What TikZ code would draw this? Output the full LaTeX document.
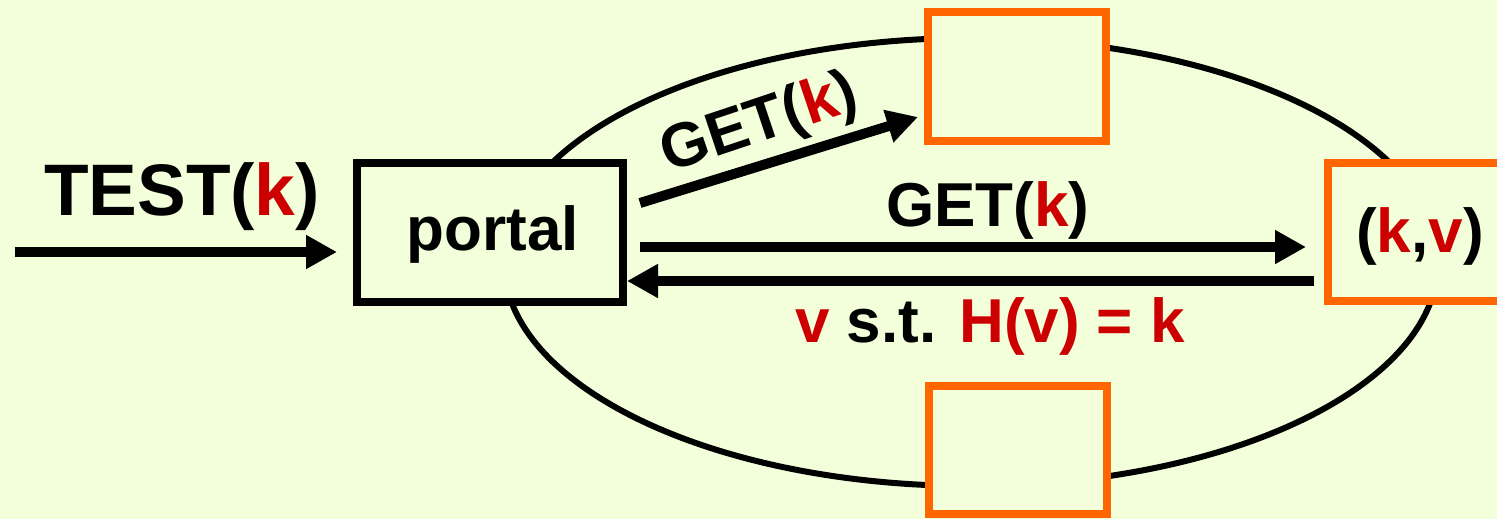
\documentclass[tikz,border=0pt]{standalone}
\usepackage{fontspec}
\setmainfont{Liberation Sans}
\usetikzlibrary{arrows.meta}
\definecolor{bg}{HTML}{F2FFDA}
\definecolor{kred}{HTML}{CC0000}
\definecolor{korange}{HTML}{FF6600}
\tikzset{
  lbl/.style={font=\fontsize{62}{70}\selectfont\bfseries, inner sep=0pt, anchor=base},
  bigl/.style={font=\fontsize{73}{80}\selectfont\bfseries, inner sep=0pt, anchor=base},
  bbox/.style={draw=black, line width=8pt, fill=bg, rectangle, inner sep=0pt},
  obox/.style={draw=korange, line width=8pt, fill=bg, rectangle, inner sep=0pt},
  arr/.style={line width=10pt, -{Triangle[length=31pt,width=32pt]}},
  ring/.style={draw=black, line width=6pt},
}
\newcommand{\rk}{\textcolor{kred}{k}}
\begin{document}
\begin{tikzpicture}[x=1pt,y=-1pt]
\fill[bg] (0,0) rectangle (1497,519);
\useasboundingbox (0,0) rectangle (1497,519);
% ring
\draw[ring] (971,262) ellipse [x radius=467, y radius=224];
% boxes
\node[bbox, minimum width=265.5pt, minimum height=139pt] (portal) at (490,232.5) {};
\node[lbl] (portaltxt) at (493,250) {portal};
\node[obox, minimum width=178pt, minimum height=129pt] (top) at (1017,76.5) {};
\node[obox, minimum width=178pt, minimum height=128.5pt] (bot) at (1018,450) {};
\begin{scope}
\clip (0,0) rectangle (1497,519);
\node[obox, minimum width=184pt, minimum height=138.5pt] (kv) at (1420,232) {};
\end{scope}
\node[lbl] (kvtxt) at (1420,252) {(\rk,\textcolor{kred}{v})};
% coordinates
\coordinate (tstart) at (15,252);
\coordinate (tend) at (337,252);
\coordinate (dstart) at (640,203);
\coordinate (dend) at (918,117);
\coordinate (hstart) at (640,247);
\coordinate (hend) at (1306,247);
\coordinate (rstart) at (1314,281);
\coordinate (rend) at (627,281);
% arrows
\draw[arr] (tstart) -- (tend);
\draw[arr] (dstart) -- (dend);
\draw[arr] (hstart) -- (hend);
\draw[arr] (rstart) -- (rend);
% labels
\node[bigl] (testl) at (182,215) {TEST(\rk)};
\node[lbl, anchor=center, rotate=18.5] (getd) at (760,125) {GET(\rk)};
\node[lbl] (geth) at (988,226) {GET(\rk)};
\node[lbl] (ret) at (990,342) {\textcolor{kred}{v} s.t. \textcolor{kred}{H(v) = k}};
\end{tikzpicture}
\end{document}
